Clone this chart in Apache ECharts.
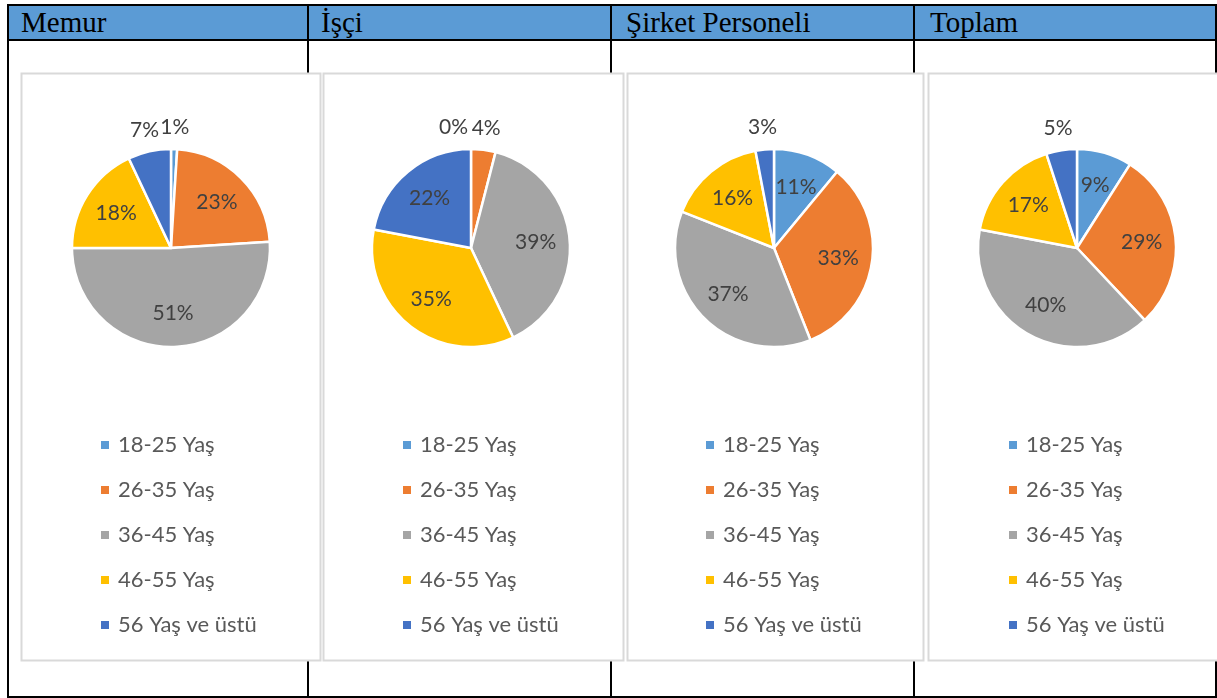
<!DOCTYPE html>
<html>
<head>
<meta charset="utf-8">
<title>Yaş dağılımı</title>
<script src="https://cdn.jsdelivr.net/npm/echarts@6/dist/echarts.min.js"></script>
<style>
  html, body { margin: 0; padding: 0; background: #fff; }
  #page { position: relative; width: 1217px; height: 698px; overflow: hidden; }
  .line { position: absolute; background: #000; }
  .head { position: absolute; left: 9px; top: 6px; width: 1206px; height: 33px; background: #5b9bd5; }
  .title { position: absolute; top: 8px; font-family: "Liberation Serif", serif; font-size: 29px; line-height: 28px; color: #000; white-space: nowrap; }
  #chart { position: absolute; left: 0; top: 0; width: 1217px; height: 698px; }
</style>
</head>
<body>
<div id="page">
  <div class="head"></div>
  <div id="table"></div>
  <div id="chart"></div>
</div>
<script>
// kategoriler ve değerler (%)
const categories = ['18-25 Yaş', '26-35 Yaş', '36-45 Yaş', '46-55 Yaş', '56 Yaş ve üstü'];
const groups = ['Memur', 'İşçi', 'Şirket Personeli', 'Toplam'];
const memur = [1, 23, 51, 18, 7];
const isci = [0, 4, 39, 35, 22];
const sirket = [11, 33, 37, 16, 3];
const toplam = [9, 29, 40, 17, 5];
const colors = ['#5b9bd5', '#ed7d31', '#a5a5a5', '#ffc000', '#4472c4'];

const values = [memur, isci, sirket, toplam];

// tablo çizgileri ve başlıklar
const colLines = [7, 307, 610, 913, 1215];
const titleX = [21, 321, 626, 930];
const table = document.getElementById('table');
function addLine(l, t, w, h) {
  const d = document.createElement('div');
  d.className = 'line';
  d.style.cssText = `left:${l}px;top:${t}px;width:${w}px;height:${h}px`;
  table.appendChild(d);
}
addLine(7, 4, 1210, 2);
addLine(7, 696, 1210, 2);
addLine(7, 39, 1210, 2);
colLines.forEach(x => addLine(x, 4, 2, 694));
groups.forEach((g, i) => {
  const t = document.createElement('div');
  t.className = 'title';
  t.style.left = titleX[i] + 'px';
  t.textContent = g;
  table.appendChild(t);
});

// panel yerleşimi
const pieX = [171, 471, 774, 1077];
const pieY = 248;
const legendX = [99, 401, 704, 1007];
const frames = [[21, 320], [323, 623], [627, 923], [928, 1228]];

const labelStyle = {
  fontFamily: 'Lato',
  fontSize: 21,
  color: '#404040',
  formatter: '{c}%'
};

const series = [];
values.forEach((vals, k) => {
  const data = vals.map((v, i) => ({ name: categories[i], value: v }));
  // görünen pasta
  series.push({
    type: 'pie',
    name: groups[k],
    center: [pieX[k], pieY],
    radius: 99,
    startAngle: 90,
    clockwise: true,
    silent: true,
    label: { show: false },
    labelLine: { show: false },
    itemStyle: { borderColor: '#fff', borderWidth: 2.5 },
    data: data
  });
  // iç etiketler (şeffaf halka)
  series.push({
    type: 'pie',
    center: [pieX[k], pieY],
    radius: 124,
    startAngle: 90,
    silent: true,
    z: 3,
    itemStyle: { color: 'transparent' },
    labelLine: { show: false },
    label: Object.assign({ position: 'inside' }, labelStyle),
    data: vals.map((v, i) => ({ name: categories[i], value: v, label: { show: v >= 8 } }))
  });
  // dış etiketler (küçük dilimler)
  series.push({
    type: 'pie',
    center: [pieX[k], pieY],
    radius: 236,
    startAngle: 90,
    silent: true,
    z: 3,
    itemStyle: { color: 'transparent' },
    labelLine: { show: false },
    label: Object.assign({ position: 'inside' }, labelStyle),
    labelLayout: function (p) {
      return vals[p.dataIndex] === 0 ? { dx: -p.labelRect.width * 0.6 } : {};
    },
    data: vals.map((v, i) => ({ name: categories[i], value: v, label: { show: v < 8 } }))
  });
});

const chart = echarts.init(document.getElementById('chart'));
chart.setOption({
  animation: false,
  backgroundColor: 'transparent',
  color: colors,
  graphic: frames.map(f => ({
    type: 'rect',
    z: -10,
    silent: true,
    shape: { x: f[0] + 0.5, y: 73.5, width: f[1] - f[0], height: 587 },
    style: { fill: '#fff', stroke: '#d9d9d9', lineWidth: 2 }
  })),
  legend: legendX.map(x => ({
    data: categories,
    orient: 'vertical',
    left: x,
    top: 433,
    padding: 0,
    icon: 'rect',
    itemWidth: 10,
    itemHeight: 10,
    itemGap: 21,
    selectedMode: false,
    textStyle: { fontFamily: 'Lato', fontSize: 22, color: '#595959', lineHeight: 24, padding: [0, 0, 0, 3] }
  })),
  series: series
});
</script>
</body>
</html>
